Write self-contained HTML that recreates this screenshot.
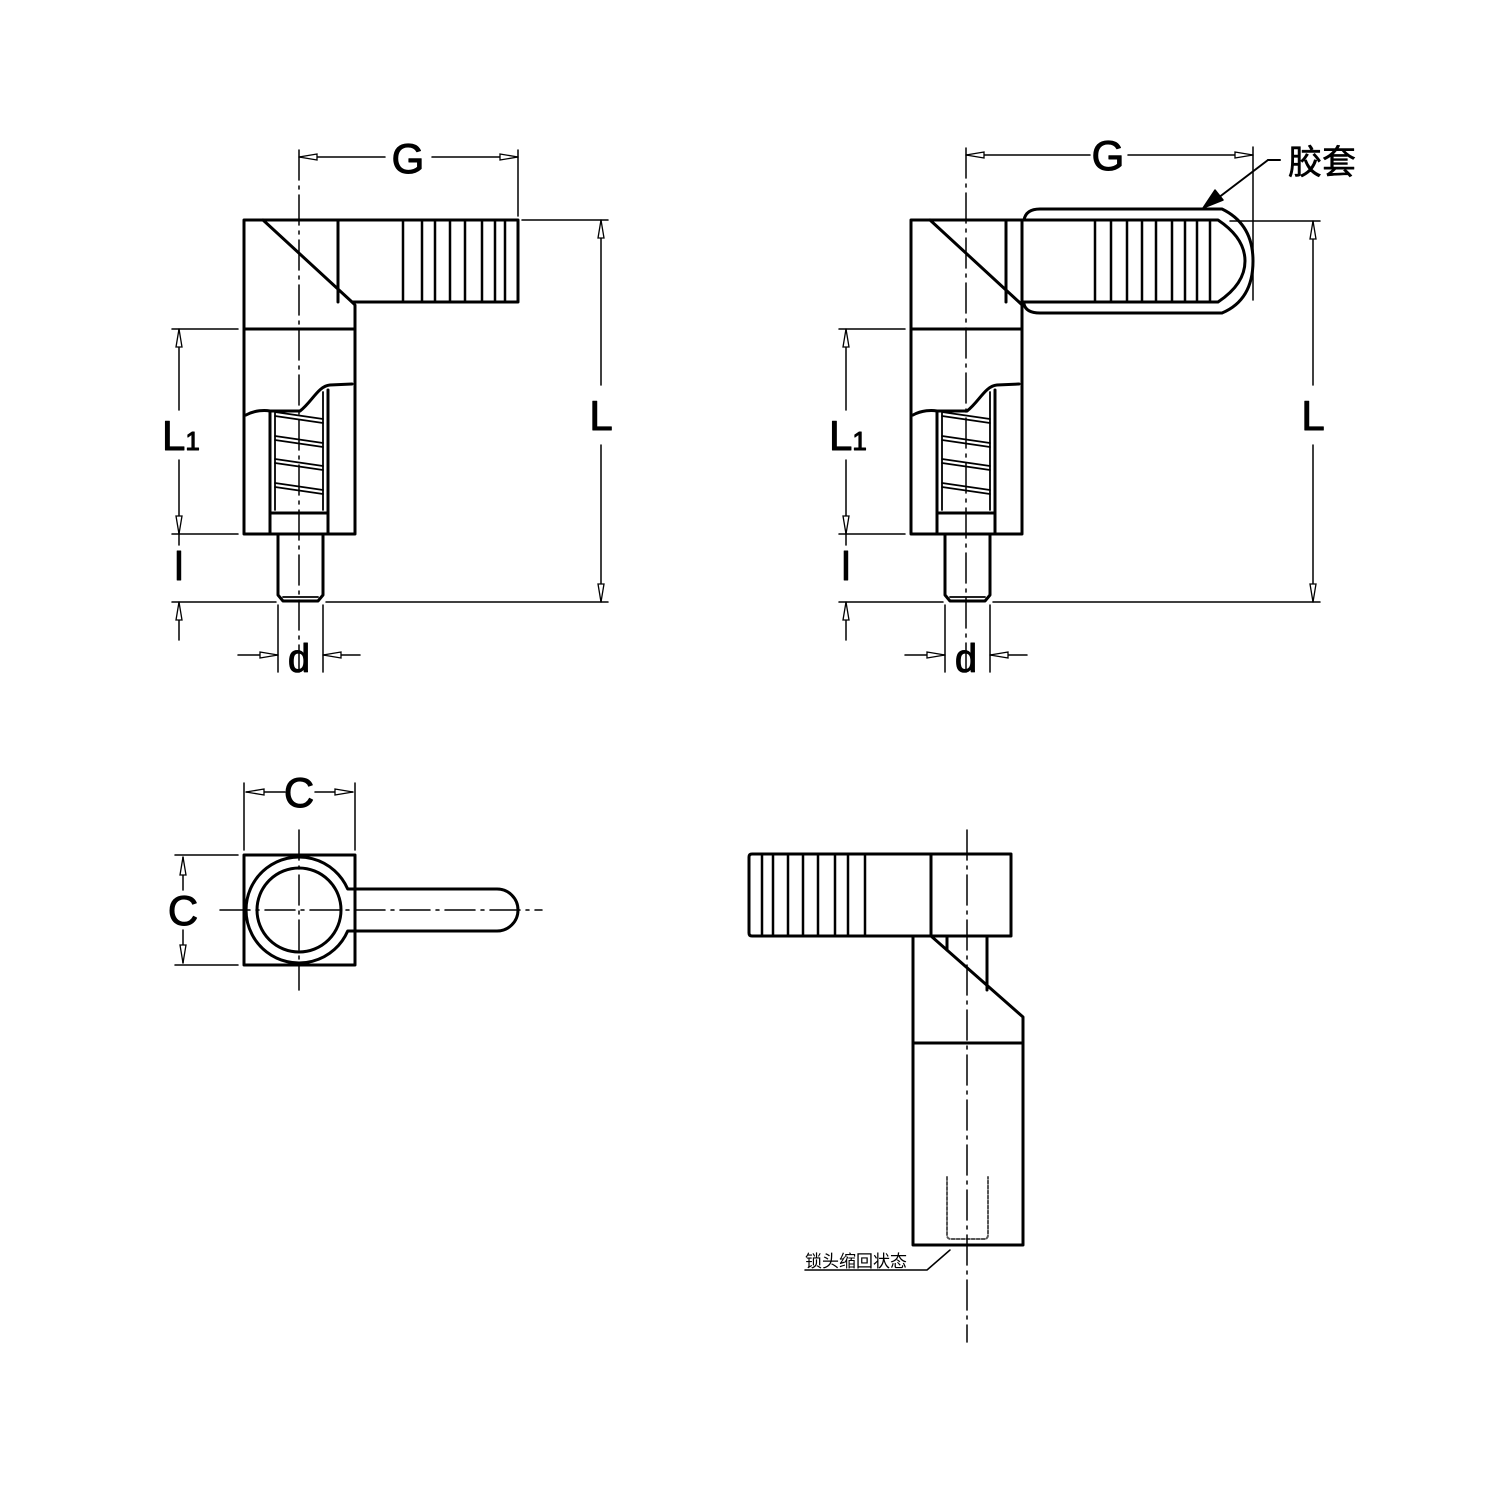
<!DOCTYPE html>
<html><head><meta charset="utf-8"><style>
html,body{margin:0;padding:0;background:#fff}
svg{display:block}
text{font-family:"Liberation Sans","DejaVu Sans",sans-serif;fill:#000}
.lb{stroke:#000;stroke-width:1;}
</style></head><body>
<svg width="1500" height="1500" viewBox="0 0 1500 1500" xmlns="http://www.w3.org/2000/svg">
<defs>
<marker id="a" viewBox="0 0 20 8" refX="20" refY="4" markerWidth="20" markerHeight="8" markerUnits="userSpaceOnUse" orient="auto-start-reverse"><path d="M20,4 L2,1 L2,7 Z" fill="#fff" stroke="#000" stroke-width="1.3"/></marker>
</defs>
<g fill="none" stroke="#000" stroke-linecap="round" stroke-linejoin="round">

<!-- ===== LEFT TOP VIEW ===== -->
<g>
<g stroke-width="3">
<path d="M244,220 H518 V302 H352 L355,305 V534 H244 Z"/>
<line x1="263" y1="220" x2="352" y2="302"/>
<line x1="338" y1="220" x2="338" y2="302"/>
<line x1="244" y1="329" x2="355" y2="329"/>
<path d="M246,415 C255,410 265,410 270,411 L300,411 C312,402 318,386 330,385 L352,384"/>
<line x1="270" y1="411" x2="270" y2="534"/>
<line x1="328" y1="390" x2="328" y2="534"/>
<line x1="270" y1="513" x2="328" y2="513"/>
<path d="M278,534 V595 L283,601 H318 L323,595 V534"/>
</g>
<g stroke-width="2.5">
<line x1="403" y1="220" x2="403" y2="302"/><line x1="422" y1="220" x2="422" y2="302"/>
<line x1="435" y1="220" x2="435" y2="302"/><line x1="450" y1="220" x2="450" y2="302"/>
<line x1="465" y1="220" x2="465" y2="302"/><line x1="482" y1="220" x2="482" y2="302"/>
<line x1="495" y1="220" x2="495" y2="302"/><line x1="505" y1="220" x2="505" y2="302"/>
</g>
<g stroke-width="1.8">
<line x1="275" y1="413" x2="275" y2="510"/>
<line x1="323" y1="392" x2="323" y2="510"/>
<path d="M275,412 L323,419 M275,416 L323,423"/>
<path d="M275,436 L323,443 M275,440 L323,447"/>
<path d="M275,459 L323,466 M275,463 L323,470"/>
<path d="M275,483 L323,490 M275,487 L323,494"/>
<line x1="283" y1="597" x2="318" y2="597"/>
</g>
<line x1="299" y1="150" x2="299" y2="672" stroke-width="1.5" stroke-dasharray="30,6,3,6"/>
<g stroke-width="1.5">
<line x1="299" y1="157" x2="385" y2="157" marker-start="url(#a)"/>
<line x1="432" y1="157" x2="518" y2="157" marker-end="url(#a)"/>
<line x1="518" y1="150" x2="518" y2="216"/>
<line x1="522" y1="220" x2="608" y2="220"/>
<line x1="326" y1="602" x2="608" y2="602"/>
<line x1="601" y1="220" x2="601" y2="385" marker-start="url(#a)"/>
<line x1="601" y1="445" x2="601" y2="602" marker-end="url(#a)"/>
<line x1="172" y1="329" x2="238" y2="329"/>
<line x1="172" y1="534" x2="238" y2="534"/>
<line x1="179" y1="329" x2="179" y2="410" marker-start="url(#a)"/>
<line x1="179" y1="460" x2="179" y2="534" marker-end="url(#a)"/>
<line x1="179" y1="534" x2="179" y2="545"/>
<line x1="172" y1="602" x2="276" y2="602"/>
<line x1="179" y1="640" x2="179" y2="602" marker-end="url(#a)"/>
<line x1="278" y1="605" x2="278" y2="672"/>
<line x1="323" y1="605" x2="323" y2="672"/>
<line x1="238" y1="655" x2="278" y2="655" marker-end="url(#a)"/>
<line x1="360" y1="655" x2="323" y2="655" marker-end="url(#a)"/>
</g>
</g>
<text class="lb" x="408" y="173" font-size="42" text-anchor="middle">G</text>
<text class="lb" x="601" y="430" font-size="42" text-anchor="middle">L</text>
<text class="lb" x="162" y="450" font-size="42">L<tspan font-size="26">1</tspan></text>
<text class="lb" x="179" y="580" font-size="40" text-anchor="middle">l</text>
<text class="lb" x="299" y="672" font-size="40" text-anchor="middle">d</text>

<!-- ===== RIGHT TOP VIEW ===== -->
<g transform="translate(667,0)">
<g stroke-width="3">
<path d="M355,220 H244 V534 H355 V305 L352,302"/>
<line x1="355" y1="220" x2="355" y2="305"/>
<line x1="263" y1="220" x2="352" y2="302"/>
<line x1="339" y1="220" x2="339" y2="302"/>
<line x1="244" y1="329" x2="355" y2="329"/>
<path d="M246,415 C255,410 265,410 270,411 L300,411 C312,402 318,386 330,385 L352,384"/>
<line x1="270" y1="411" x2="270" y2="534"/>
<line x1="328" y1="390" x2="328" y2="534"/>
<line x1="270" y1="513" x2="328" y2="513"/>
<path d="M278,534 V595 L283,601 H318 L323,595 V534"/>
</g>
<g stroke-width="1.8">
<line x1="275" y1="413" x2="275" y2="510"/>
<line x1="323" y1="392" x2="323" y2="510"/>
<path d="M275,412 L323,419 M275,416 L323,423"/>
<path d="M275,436 L323,443 M275,440 L323,447"/>
<path d="M275,459 L323,466 M275,463 L323,470"/>
<path d="M275,483 L323,490 M275,487 L323,494"/>
<line x1="283" y1="597" x2="318" y2="597"/>
</g>
<line x1="299" y1="148" x2="299" y2="672" stroke-width="1.5" stroke-dasharray="30,6,3,6"/>
<g stroke-width="1.5">
<line x1="172" y1="329" x2="238" y2="329"/>
<line x1="172" y1="534" x2="238" y2="534"/>
<line x1="179" y1="329" x2="179" y2="410" marker-start="url(#a)"/>
<line x1="179" y1="460" x2="179" y2="534" marker-end="url(#a)"/>
<line x1="179" y1="534" x2="179" y2="545"/>
<line x1="172" y1="602" x2="276" y2="602"/>
<line x1="179" y1="640" x2="179" y2="602" marker-end="url(#a)"/>
<line x1="278" y1="605" x2="278" y2="672"/>
<line x1="323" y1="605" x2="323" y2="672"/>
<line x1="238" y1="655" x2="278" y2="655" marker-end="url(#a)"/>
<line x1="360" y1="655" x2="323" y2="655" marker-end="url(#a)"/>
</g>
</g>
<g stroke-width="3">
<path d="M1022,220 H1218 Q1245,238 1245,261 Q1245,284 1218,302 H1022"/>
<path d="M1024,220 Q1026,209 1040,209 H1222 Q1253,224 1253,261 Q1253,300 1222,313 H1040 Q1026,313 1024,304"/>
</g>
<g stroke-width="2.5">
<line x1="1006" y1="220" x2="1006" y2="302"/>
<line x1="1095" y1="220" x2="1095" y2="302"/><line x1="1111" y1="220" x2="1111" y2="302"/>
<line x1="1127" y1="220" x2="1127" y2="302"/><line x1="1142" y1="220" x2="1142" y2="302"/>
<line x1="1156" y1="220" x2="1156" y2="302"/><line x1="1172" y1="220" x2="1172" y2="302"/>
<line x1="1185" y1="220" x2="1185" y2="302"/><line x1="1197" y1="220" x2="1197" y2="302"/>
<line x1="1210" y1="220" x2="1210" y2="302"/>
</g>
<g stroke-width="1.5">
<line x1="966" y1="155" x2="1090" y2="155" marker-start="url(#a)"/>
<line x1="1128" y1="155" x2="1253" y2="155" marker-end="url(#a)"/>
<line x1="1253" y1="147" x2="1253" y2="300"/>
<line x1="1230" y1="221" x2="1320" y2="221"/>
<line x1="993" y1="602" x2="1320" y2="602"/>
<line x1="1313" y1="221" x2="1313" y2="385" marker-start="url(#a)"/>
<line x1="1313" y1="445" x2="1313" y2="602" marker-end="url(#a)"/>
</g>
<line x1="1280" y1="160" x2="1268" y2="160" stroke-width="2"/>
<line x1="1268" y1="160" x2="1218" y2="198" stroke-width="2"/>
<path d="M1203,208 L1215,190 L1223,200 Z" fill="#000" stroke="#000" stroke-width="1.5"/>
<text class="lb" x="1108" y="170" font-size="42" text-anchor="middle">G</text>
<text class="lb" x="1313" y="430" font-size="42" text-anchor="middle">L</text>
<text class="lb" x="829" y="450" font-size="42">L<tspan font-size="26">1</tspan></text>
<text class="lb" x="846" y="580" font-size="40" text-anchor="middle">l</text>
<text class="lb" x="966" y="672" font-size="40" text-anchor="middle">d</text>
<text class="lb" x="1288" y="174" font-size="34" style="font-family:'Liberation Sans','Noto Sans CJK SC',sans-serif;stroke-width:0.6">胶套</text>

<!-- ===== BOTTOM LEFT VIEW ===== -->
<g stroke-width="3">
<rect x="244" y="855" width="111" height="110"/>
<path d="M347.7,889 A53,53 0 1 0 347.7,931 H497 A21,21 0 0 0 497,889 Z"/>
<circle cx="299" cy="910" r="42"/>
</g>
<g stroke-width="1.5">
<line x1="220" y1="910" x2="542" y2="910" stroke-dasharray="30,6,3,6"/>
<line x1="299" y1="830" x2="299" y2="990" stroke-dasharray="30,6,3,6"/>
<line x1="244" y1="783" x2="244" y2="850"/>
<line x1="355" y1="783" x2="355" y2="850"/>
<line x1="285" y1="792" x2="246" y2="792" marker-end="url(#a)"/>
<line x1="315" y1="792" x2="353" y2="792" marker-end="url(#a)"/>
<line x1="175" y1="855" x2="238" y2="855"/>
<line x1="175" y1="965" x2="238" y2="965"/>
<line x1="183" y1="890" x2="183" y2="857" marker-end="url(#a)"/>
<line x1="183" y1="930" x2="183" y2="963" marker-end="url(#a)"/>
</g>
<text class="lb" x="299" y="807" font-size="42" text-anchor="middle">C</text>
<text class="lb" x="183" y="925" font-size="42" text-anchor="middle">C</text>

<!-- ===== BOTTOM RIGHT VIEW ===== -->
<g stroke-width="3">
<path d="M752,854 H1011 V936 H752 Q749,936 749,933 V857 Q749,854 752,854 Z"/>
<line x1="931" y1="854" x2="931" y2="936"/>
<path d="M913,936 V1245 H1023 V1017 L931,936"/>
<line x1="947" y1="936" x2="947" y2="950"/>
<line x1="987" y1="936" x2="987" y2="990"/>
<line x1="913" y1="1043" x2="1023" y2="1043"/>
</g>
<g stroke-width="2.5">
<line x1="762" y1="854" x2="762" y2="936"/><line x1="773" y1="854" x2="773" y2="936"/>
<line x1="788" y1="854" x2="788" y2="936"/><line x1="803" y1="854" x2="803" y2="936"/>
<line x1="818" y1="854" x2="818" y2="936"/><line x1="835" y1="854" x2="835" y2="936"/>
<line x1="848" y1="854" x2="848" y2="936"/><line x1="865" y1="854" x2="865" y2="936"/>
</g>
<path d="M947,1177 V1235 Q947,1239 951,1239 H984 Q988,1239 988,1235 V1177" stroke-width="2" stroke="#555" stroke-dasharray="3,2"/>
<line x1="967" y1="830" x2="967" y2="1342" stroke-width="1.5" stroke-dasharray="30,6,3,6"/>
<path d="M805,1270 H927 L950,1250" stroke-width="1.5"/>
<text x="805" y="1267" font-size="17" stroke="none" style="font-family:'Liberation Sans','Noto Sans CJK SC',sans-serif">锁头缩回状态</text>
</g>
</svg>
</body></html>
